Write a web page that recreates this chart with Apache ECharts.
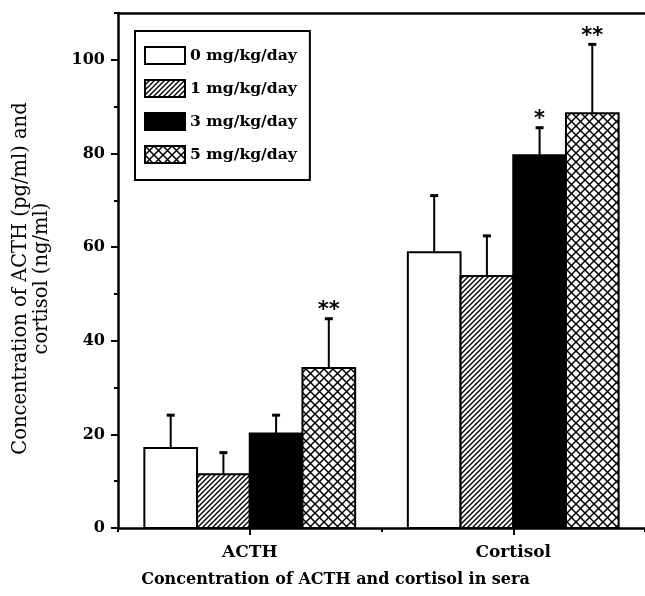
<!DOCTYPE html>
<html><head><meta charset="utf-8">
<script src="https://cdn.jsdelivr.net/npm/echarts@6/dist/echarts.min.js"></script>
<style>html,body{margin:0;padding:0;background:#fff}#c{width:645px;height:596px}</style>
</head><body><div id="c"></div>
<script>
// ---- data ----
const categories = ['ACTH', 'Cortisol'];
const categoryX = [1, 2];
const doses = ['0 mg/kg/day', '1 mg/kg/day', '3 mg/kg/day', '5 mg/kg/day'];
const means0 = [17.1, 58.9];
const means1 = [11.5, 53.8];
const means3 = [20.2, 79.6];
const means5 = [34.2, 88.6];
const sd0 = [7.0, 12.1];
const sd1 = [4.6, 8.6];
const sd3 = [3.9, 5.9];
const sd5 = [10.5, 14.7];
const sig0 = ['', ''];
const sig1 = ['', ''];
const sig3 = ['', '*'];
const sig5 = ['**', '**'];
const yTicks = [0, 20, 40, 60, 80, 100];

const means = [means0, means1, means3, means5];
const sds = [sd0, sd1, sd3, sd5];
const sigs = [sig0, sig1, sig3, sig5];

// ---- patterns ----
function hatchCanvas() {
  const s = 5, c = document.createElement('canvas');
  c.width = s; c.height = s;
  const g = c.getContext('2d');
  g.fillStyle = '#fff'; g.fillRect(0, 0, s, s);
  g.strokeStyle = '#000'; g.lineWidth = 1.4;
  g.beginPath();
  g.moveTo(-1, s + 1); g.lineTo(s + 1, -1);
  g.moveTo(-2, 2); g.lineTo(2, -2);
  g.moveTo(s - 2, s + 2); g.lineTo(s + 2, s - 2);
  g.stroke();
  return c;
}
function crossCanvas() {
  const s = 9, c = document.createElement('canvas');
  c.width = s; c.height = s;
  const g = c.getContext('2d');
  g.fillStyle = '#fff'; g.fillRect(0, 0, s, s);
  g.strokeStyle = '#000'; g.lineWidth = 1.5;
  g.beginPath();
  g.moveTo(-1, -1); g.lineTo(s + 1, s + 1);
  g.moveTo(-1, s + 1); g.lineTo(s + 1, -1);
  g.stroke();
  return c;
}
const fills = [
  '#ffffff',
  { image: hatchCanvas(), repeat: 'repeat' },
  '#000000',
  { image: crossCanvas(), repeat: 'repeat' }
];

const FONT = 'DejaVu Serif';

function makeRender(si) {
  return function (params, api) {
    const x = api.value(0), v = api.value(1), e = api.value(2);
    const off = -0.4 + si * 0.2;
    const p0 = api.coord([x + off, 0]);
    const p1 = api.coord([x + off + 0.2, v]);
    const pc = api.coord([x + off + 0.1, v + e]);
    const children = [
      { type: 'line', shape: { x1: pc[0], y1: p1[1], x2: pc[0], y2: pc[1] }, style: { stroke: '#000', lineWidth: 2 } },
      { type: 'line', shape: { x1: pc[0] - 4, y1: pc[1], x2: pc[0] + 4, y2: pc[1] }, style: { stroke: '#000', lineWidth: 3 } },
      { type: 'rect', shape: { x: p0[0], y: p1[1], width: p1[0] - p0[0], height: p0[1] - p1[1] },
        style: { fill: fills[si], stroke: '#000', lineWidth: 2 } }
    ];
    const s = sigs[si][params.dataIndex];
    if (s) {
      children.push({ type: 'text', style: { text: s, x: pc[0], y: pc[1] - 8, align: 'center', verticalAlign: 'middle',
        font: 'bold 21px "DejaVu Sans"', fill: '#000' } });
    }
    return { type: 'group', children };
  };
}

const chart = echarts.init(document.getElementById('c'));
const axisColor = '#000';
chart.setOption({
  animation: false,
  backgroundColor: '#fff',
  grid: { left: 118, top: 13, width: 529, height: 515 },
  legend: {
    orient: 'vertical', left: 135, top: 31, icon: 'rect', itemWidth: 40, itemHeight: 17, itemGap: 14,
    padding: [15, 13, 16, 9], borderColor: '#000', borderWidth: 2, backgroundColor: '#fff',
    selectedMode: false,
    textStyle: { fontFamily: FONT, fontWeight: 'bold', fontSize: 15.6, color: '#000' },
    itemStyle: { borderColor: '#000', borderWidth: 2 },
    data: doses
  },
  xAxis: [
    {
      type: 'value', position: 'bottom', min: 0.5, max: 2.5, interval: 0.5,
      axisLine: { show: true, lineStyle: { color: axisColor, width: 2.5 } },
      axisTick: { show: true, customValues: categoryX, length: 7, lineStyle: { color: axisColor, width: 2 } },
      axisLabel: { customValues: categoryX, formatter: v => { const i = categoryX.indexOf(v); return i >= 0 ? categories[i] : ''; },
        margin: 16, fontFamily: FONT, fontWeight: 'bold', fontSize: 17, color: '#000' },
      splitLine: { show: false },
      name: 'Concentration of ACTH and cortisol in sera', nameLocation: 'middle', nameGap: 44,
      nameTextStyle: { fontFamily: FONT, fontWeight: 'bold', fontSize: 16, color: '#000', padding: [0, 92, 0, 0] }
    },
    {
      type: 'value', position: 'bottom', min: 0.5, max: 2.5, interval: 1,
      axisLine: { show: false }, axisTick: { show: true, length: 4, lineStyle: { color: axisColor, width: 2 } },
      axisLabel: { show: false }, splitLine: { show: false }
    },
    {
      type: 'value', position: 'top', min: 0.5, max: 2.5,
      axisLine: { show: true, lineStyle: { color: axisColor, width: 2.5 } },
      axisTick: { show: false }, axisLabel: { show: false }, splitLine: { show: false }
    }
  ],
  yAxis: [
    {
      type: 'value', position: 'left', min: 0, max: 110, interval: 10,
      axisLine: { show: true, lineStyle: { color: axisColor, width: 2.5 } },
      axisTick: { show: true, length: 4, lineStyle: { color: axisColor, width: 2 } },
      axisLabel: { customValues: yTicks, formatter: v => yTicks.includes(v) ? String(v) : '',
        margin: 13, fontFamily: FONT, fontWeight: 'bold', fontSize: 16, color: '#000' },
      splitLine: { show: false },
      name: 'Concentration of ACTH (pg/ml) and\ncortisol (ng/ml)', nameLocation: 'middle', nameGap: 66,
      nameTextStyle: { fontFamily: FONT, fontSize: 19.5, lineHeight: 21, color: '#000', padding: [0, 16, 0, 0] }
    },
    {
      type: 'value', position: 'left', min: 0, max: 110, interval: 20,
      axisLine: { show: false },
      axisTick: { show: true, customValues: yTicks, length: 7, lineStyle: { color: axisColor, width: 2 } },
      axisLabel: { show: false }, splitLine: { show: false }
    }
  ],
  series: doses.map((d, i) => ({
    name: d, type: 'custom', xAxisIndex: 0, yAxisIndex: 0,
    itemStyle: { color: fills[i], borderColor: '#000', borderWidth: 2 },
    renderItem: makeRender(i),
    encode: { x: 0, y: 1 },
    data: categoryX.map((x, j) => [x, means[i][j], sds[i][j]])
  }))
});
</script></body></html>
